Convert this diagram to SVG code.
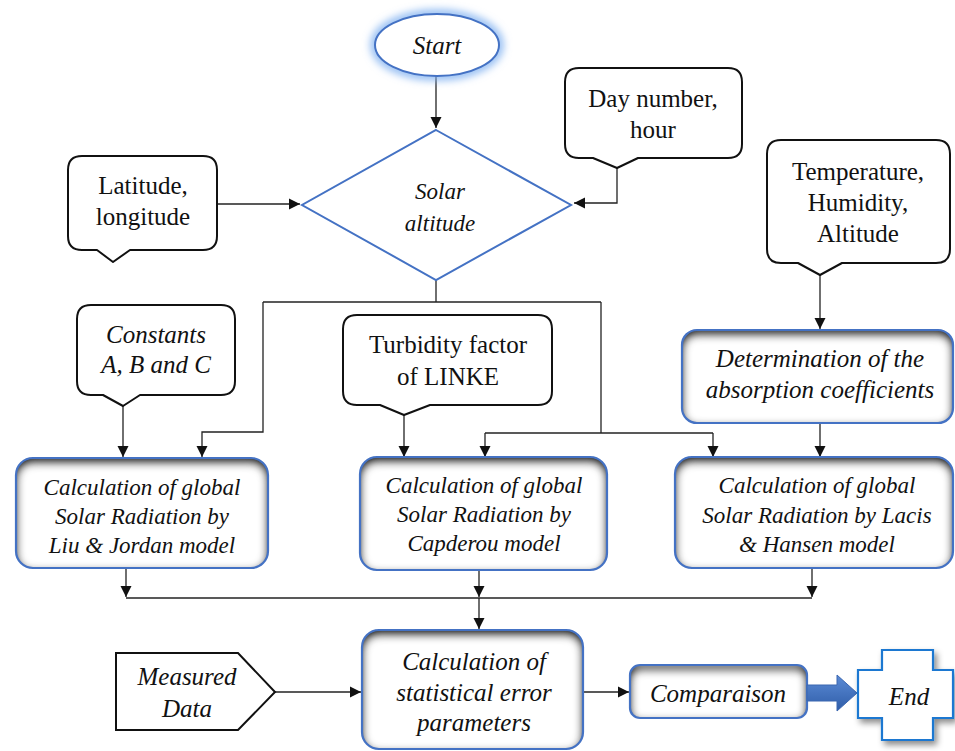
<svg xmlns="http://www.w3.org/2000/svg" width="955" height="751" viewBox="0 0 955 751">
<style>
  .callout { fill: #fff; stroke: #111; stroke-width: 2; stroke-linejoin: round; }
  .box { fill: #fff; }
  .boxline { fill: none; stroke: #4472C4; stroke-width: 2.2; }
  .con { fill: none; stroke: #222; stroke-width: 1.3; }
</style>
<defs>
  <marker id="ah" markerUnits="userSpaceOnUse" markerWidth="12" markerHeight="12" refX="11" refY="6" orient="auto">
    <path d="M0,0.5 L11,6 L0,11.5 Z" fill="#111"/>
  </marker>
  <filter id="inner" x="-10%" y="-10%" width="120%" height="120%">
    <feFlood flood-color="#000" flood-opacity="1" result="f"/>
    <feComposite in="f" in2="SourceAlpha" operator="out" result="inv"/>
    <feGaussianBlur in="inv" stdDeviation="5" result="blur"/>
    <feOffset in="blur" dx="0" dy="4" result="off"/>
    <feComposite in="off" in2="SourceAlpha" operator="in" result="shadow"/>
    <feMerge><feMergeNode in="SourceGraphic"/><feMergeNode in="shadow"/><feMergeNode in="shadow"/></feMerge>
  </filter>
  <filter id="glow" x="-30%" y="-40%" width="160%" height="180%">
    <feGaussianBlur in="SourceGraphic" stdDeviation="4"/>
  </filter>
  <filter id="drop" x="-20%" y="-20%" width="150%" height="150%">
    <feGaussianBlur in="SourceAlpha" stdDeviation="3"/>
    <feOffset dx="3" dy="4" result="b"/>
    <feFlood flood-color="#000" flood-opacity="0.45"/>
    <feComposite in2="b" operator="in" result="s"/>
    <feMerge><feMergeNode in="s"/><feMergeNode in="SourceGraphic"/></feMerge>
  </filter>
  <linearGradient id="blk" x1="0" y1="0" x2="0" y2="1">
    <stop offset="0" stop-color="#5B8BD6"/>
    <stop offset="1" stop-color="#2F5DA8"/>
  </linearGradient>
</defs>
<rect width="955" height="751" fill="#fff"/>

<g id="connectors" class="con">
  <path marker-end="url(#ah)" d="M436,76 V128"/>
  <path marker-end="url(#ah)" d="M217,204 H300"/>
  <path marker-end="url(#ah)" d="M617,168 V203 H574"/>
  <path d="M436,280 V302"/>
  <path d="M263,302 H601"/>
  <path marker-end="url(#ah)" d="M263,302 V432 H202 V457"/>
  <path d="M601,302 V433"/>
  <path d="M485,433 H713"/>
  <path marker-end="url(#ah)" d="M485,433 V457"/>
  <path marker-end="url(#ah)" d="M713,433 V457"/>
  <path marker-end="url(#ah)" d="M123,406 V457"/>
  <path marker-end="url(#ah)" d="M404,415 V457"/>
  <path marker-end="url(#ah)" d="M820,275 V329"/>
  <path marker-end="url(#ah)" d="M820,423 V457"/>
  <path marker-end="url(#ah)" d="M126,568 V597"/>
  <path marker-end="url(#ah)" d="M479,570 V597"/>
  <path marker-end="url(#ah)" d="M812,568 V597"/>
  <path d="M126,598 H812"/>
  <path marker-end="url(#ah)" d="M479,598 V629"/>
  <path marker-end="url(#ah)" d="M275,692 H361"/>
  <path marker-end="url(#ah)" d="M583,692 H629"/>
</g>

<g id="start">
  <ellipse cx="437" cy="45" rx="62" ry="31" fill="none" stroke="#7FB0F0" stroke-width="8" filter="url(#glow)"/>
  <ellipse cx="437" cy="45" rx="62" ry="31" fill="#fff" stroke="#4472C4" stroke-width="2"/>
  <text x="437" y="54" fill="#111" text-anchor="middle" font-family="Times New Roman, Liberation Serif, serif" font-style="italic" font-size="25">Start</text>
</g>

<g id="solar-altitude">
  <path d="M436,130 L571,205 L436,280 L302,205 Z" fill="#fff" stroke="#4472C4" stroke-width="2"/>
  <text x="440" y="199" fill="#111" text-anchor="middle" font-family="Times New Roman, Liberation Serif, serif" font-style="italic" font-size="23">Solar</text>
  <text x="440" y="231" fill="#111" text-anchor="middle" font-family="Times New Roman, Liberation Serif, serif" font-style="italic" font-size="23">altitude</text>
</g>

<g id="day-number">
  <path class="callout" d="M579,68 H728 Q742,68 742,82 V144 Q742,158 728,158 H638 L617,168 L593,158 H579 Q565,158 565,144 V82 Q565,68 579,68 Z"/>
  <text x="653" y="107" fill="#111" text-anchor="middle" font-family="Times New Roman, Liberation Serif, serif" font-size="25">Day number,</text>
  <text x="653" y="138" fill="#111" text-anchor="middle" font-family="Times New Roman, Liberation Serif, serif" font-size="25">hour</text>
</g>

<g id="latitude">
  <path class="callout" d="M82,156 H203 Q217,156 217,170 V236 Q217,250 203,250 H130 L113,262 L97,250 H82 Q68,250 68,236 V170 Q68,156 82,156 Z"/>
  <text x="143" y="194" fill="#111" text-anchor="middle" font-family="Times New Roman, Liberation Serif, serif" font-size="25">Latitude,</text>
  <text x="143" y="225" fill="#111" text-anchor="middle" font-family="Times New Roman, Liberation Serif, serif" font-size="25">longitude</text>
</g>

<g id="temperature">
  <path class="callout" d="M781,140 H936 Q950,140 950,154 V249 Q950,263 936,263 H842 L820,275 L798,263 H781 Q767,263 767,249 V154 Q767,140 781,140 Z"/>
  <text x="858" y="180" fill="#111" text-anchor="middle" font-family="Times New Roman, Liberation Serif, serif" font-size="25">Temperature,</text>
  <text x="858" y="211" fill="#111" text-anchor="middle" font-family="Times New Roman, Liberation Serif, serif" font-size="25">Humidity,</text>
  <text x="858" y="242" fill="#111" text-anchor="middle" font-family="Times New Roman, Liberation Serif, serif" font-size="25">Altitude</text>
</g>

<g id="constants">
  <path class="callout" d="M91,305 H221 Q235,305 235,319 V381 Q235,395 221,395 H140 L123,406 L103,395 H91 Q77,395 77,381 V319 Q77,305 91,305 Z"/>
  <text x="156" y="343" fill="#111" text-anchor="middle" font-family="Times New Roman, Liberation Serif, serif" font-style="italic" font-size="25">Constants</text>
  <text x="156" y="373" fill="#111" text-anchor="middle" font-family="Times New Roman, Liberation Serif, serif" font-style="italic" font-size="25">A, B and C</text>
</g>

<g id="turbidity">
  <path class="callout" d="M357,315 H538 Q552,315 552,329 V391 Q552,405 538,405 H430 L404,415 L380,405 H357 Q343,405 343,391 V329 Q343,315 357,315 Z"/>
  <text x="448" y="353" fill="#111" text-anchor="middle" font-family="Times New Roman, Liberation Serif, serif" font-size="25">Turbidity factor</text>
  <text x="448" y="385" fill="#111" text-anchor="middle" font-family="Times New Roman, Liberation Serif, serif" font-size="25">of LINKE</text>
</g>

<g id="absorption">
  <rect class="box" x="682" y="330" width="271" height="93" rx="15" filter="url(#inner)"/>
  <rect class="boxline" x="682" y="330" width="271" height="93" rx="15"/>
  <text x="820" y="367" fill="#111" text-anchor="middle" font-family="Times New Roman, Liberation Serif, serif" font-style="italic" font-size="25">Determination of the</text>
  <text x="820" y="398" fill="#111" text-anchor="middle" font-family="Times New Roman, Liberation Serif, serif" font-style="italic" font-size="25">absorption coefficients</text>
</g>

<g id="liu-jordan">
  <rect class="box" x="16" y="458" width="252" height="110" rx="17" filter="url(#inner)"/>
  <rect class="boxline" x="16" y="458" width="252" height="110" rx="17"/>
  <text x="142" y="495" fill="#111" text-anchor="middle" font-family="Times New Roman, Liberation Serif, serif" font-style="italic" font-size="23">Calculation of global</text>
  <text x="142" y="524" fill="#111" text-anchor="middle" font-family="Times New Roman, Liberation Serif, serif" font-style="italic" font-size="23">Solar Radiation by</text>
  <text x="142" y="553" fill="#111" text-anchor="middle" font-family="Times New Roman, Liberation Serif, serif" font-style="italic" font-size="23">Liu &amp; Jordan model</text>
</g>

<g id="capderou">
  <rect class="box" x="360" y="457" width="247" height="113" rx="17" filter="url(#inner)"/>
  <rect class="boxline" x="360" y="457" width="247" height="113" rx="17"/>
  <text x="484" y="493" fill="#111" text-anchor="middle" font-family="Times New Roman, Liberation Serif, serif" font-style="italic" font-size="23">Calculation of global</text>
  <text x="484" y="522" fill="#111" text-anchor="middle" font-family="Times New Roman, Liberation Serif, serif" font-style="italic" font-size="23">Solar Radiation by</text>
  <text x="484" y="551" fill="#111" text-anchor="middle" font-family="Times New Roman, Liberation Serif, serif" font-style="italic" font-size="23">Capderou model</text>
</g>

<g id="lacis-hansen">
  <rect class="box" x="675" y="457" width="278" height="111" rx="17" filter="url(#inner)"/>
  <rect class="boxline" x="675" y="457" width="278" height="111" rx="17"/>
  <text x="817" y="493" fill="#111" text-anchor="middle" font-family="Times New Roman, Liberation Serif, serif" font-style="italic" font-size="23">Calculation of global</text>
  <text x="817" y="523" fill="#111" text-anchor="middle" font-family="Times New Roman, Liberation Serif, serif" font-style="italic" font-size="23">Solar Radiation by Lacis</text>
  <text x="817" y="552" fill="#111" text-anchor="middle" font-family="Times New Roman, Liberation Serif, serif" font-style="italic" font-size="23">&amp; Hansen model</text>
</g>

<g id="measured-data">
  <path d="M116,653 H238 L275,692 L238,730 H116 Z" fill="#fff" stroke="#111" stroke-width="2"/>
  <text x="187" y="685" fill="#111" text-anchor="middle" font-family="Times New Roman, Liberation Serif, serif" font-style="italic" font-size="25">Measured</text>
  <text x="187" y="717" fill="#111" text-anchor="middle" font-family="Times New Roman, Liberation Serif, serif" font-style="italic" font-size="25">Data</text>
</g>

<g id="statistics">
  <rect class="box" x="362" y="630" width="221" height="119" rx="17" filter="url(#inner)"/>
  <rect class="boxline" x="362" y="630" width="221" height="119" rx="17"/>
  <text x="474" y="670" fill="#111" text-anchor="middle" font-family="Times New Roman, Liberation Serif, serif" font-style="italic" font-size="25">Calculation of</text>
  <text x="474" y="701" fill="#111" text-anchor="middle" font-family="Times New Roman, Liberation Serif, serif" font-style="italic" font-size="25">statistical error</text>
  <text x="474" y="731" fill="#111" text-anchor="middle" font-family="Times New Roman, Liberation Serif, serif" font-style="italic" font-size="25">parameters</text>
</g>

<g id="comparaison">
  <rect class="box" x="630" y="665" width="177" height="53" rx="10" filter="url(#inner)"/>
  <rect class="boxline" x="630" y="665" width="177" height="53" rx="10"/>
  <text x="718" y="702" fill="#111" text-anchor="middle" font-family="Times New Roman, Liberation Serif, serif" font-style="italic" font-size="25">Comparaison</text>
</g>

<g id="block-arrow">
  <path d="M807,685 H837 V675 L857,693 L837,711 V701 H807 Z" fill="url(#blk)" stroke="#3A66B0" stroke-width="1"/>
</g>

<g id="end">
  <path d="M882,650 H933 V670 H953 V718 H933 V740 H882 V718 H858 V670 H882 Z" fill="#fff" stroke="#1F78D1" stroke-width="2.2" filter="url(#drop)"/>
  <text x="909" y="705" fill="#111" text-anchor="middle" font-family="Times New Roman, Liberation Serif, serif" font-style="italic" font-size="25">End</text>
</g>
</svg>
